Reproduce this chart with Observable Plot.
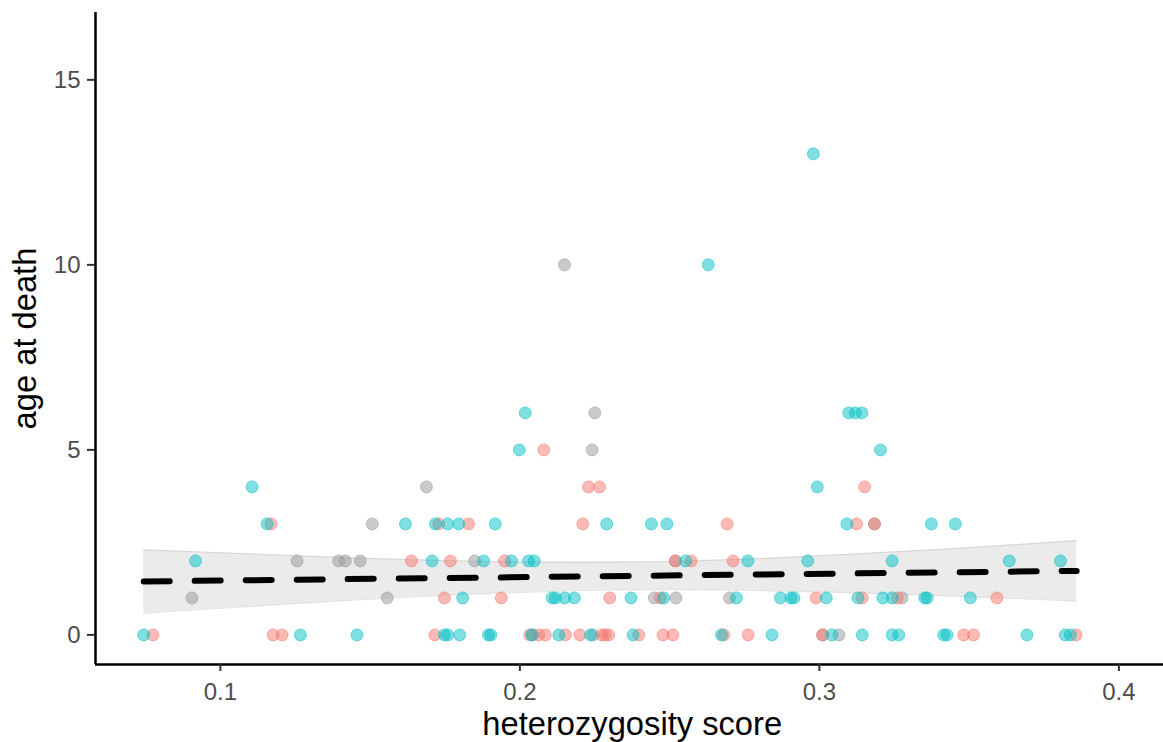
<!DOCTYPE html>
<html><head><meta charset="utf-8">
<script src="https://cdn.jsdelivr.net/npm/d3@7"></script>
<script src="https://cdn.jsdelivr.net/npm/@observablehq/plot@0.6"></script>
<style>html,body{margin:0;padding:0;background:#fff}</style>
</head><body><div id="chart"></div>
<script>
// axis settings
const xTicks = [0.1, 0.2, 0.3, 0.4];
const yTicks = [0, 5, 10, 15];
const xDomain = [0.0583, 0.4149];
const yDomain = [-0.8, 16.82];
const xTitle = "heterozygosity score";
const yTitle = "age at death";

// points: [heterozygosity score, age at death]
const grayPts = [
  [0.2043,0],[0.2245,0],[0.3011,0],[0.3065,0],
  [0.0905,1],[0.1557,1],[0.2449,1],[0.2521,1],[0.2700,1],[0.3276,1],
  [0.1256,2],[0.1395,2],[0.1417,2],[0.1467,2],[0.1849,2],[0.2519,2],
  [0.1507,3],[0.3184,3],
  [0.1688,4],
  [0.2241,5],
  [0.2250,6],
  [0.2149,10]
];
const salmonPts = [
  [0.0775,0],[0.1176,0],[0.1206,0],[0.1716,0],[0.2033,0],[0.2063,0],[0.2085,0],[0.2152,0],[0.2200,0],
  [0.2274,0],[0.2285,0],[0.2297,0],[0.2397,0],[0.2478,0],[0.2511,0],[0.2681,0],[0.2762,0],[0.3011,0],
  [0.3482,0],[0.3515,0],[0.3857,0],
  [0.1748,1],[0.1938,1],[0.2300,1],[0.2469,1],[0.2989,1],[0.3143,1],[0.3260,1],[0.3593,1],
  [0.1638,2],[0.1768,2],[0.1949,2],[0.2519,2],[0.2572,2],[0.2712,2],
  [0.1169,3],[0.1729,3],[0.1829,3],[0.2210,3],[0.2692,3],[0.3124,3],[0.3184,3],
  [0.2229,4],[0.2266,4],[0.3151,4],
  [0.2080,5]
];
const cyanPts = [
  [0.0744,0],[0.1267,0],[0.1456,0],[0.1748,0],[0.1759,0],[0.1799,0],[0.1895,0],[0.1903,0],[0.2040,0],
  [0.2130,0],[0.2236,0],[0.2378,0],[0.2673,0],[0.2842,0],[0.3042,0],[0.3143,0],[0.3243,0],[0.3265,0],
  [0.3415,0],[0.3426,0],[0.3693,0],[0.3821,0],[0.3838,0],
  [0.1809,1],[0.2108,1],[0.2119,1],[0.2150,1],[0.2182,1],[0.2371,1],[0.2480,1],[0.2723,1],[0.2870,1],
  [0.2905,1],[0.2915,1],[0.3023,1],[0.3129,1],[0.3212,1],[0.3243,1],[0.3352,1],[0.3360,1],[0.3504,1],
  [0.0917,2],[0.1707,2],[0.1879,2],[0.1972,2],[0.2029,2],[0.2048,2],[0.2553,2],[0.2761,2],[0.2961,2],
  [0.3243,2],[0.3634,2],[0.3805,2],
  [0.1156,3],[0.1618,3],[0.1718,3],[0.1759,3],[0.1796,3],[0.1918,3],[0.2290,3],[0.2439,3],[0.2491,3],
  [0.3092,3],[0.3374,3],[0.3454,3],
  [0.1106,4],[0.2993,4],
  [0.1998,5],[0.3204,5],
  [0.2018,6],[0.3098,6],[0.3120,6],[0.3142,6],
  [0.2629,10],
  [0.2980,13]
];

// smoother
const ribbonX    = [0.0744, 0.10, 0.13, 0.16, 0.19, 0.22, 0.25, 0.28, 0.31, 0.34, 0.37, 0.3859];
const ribbonLow  = [0.59,   0.72, 0.87, 1.01, 1.12, 1.20, 1.23, 1.20, 1.14, 1.06, 0.97, 0.91];
const ribbonHigh = [2.30,   2.22, 2.12, 2.04, 1.98, 1.96, 1.98, 2.06, 2.18, 2.31, 2.46, 2.55];
const fitX = [0.0744, 0.3859];
const fitY = [1.445, 1.730];

const groups = ["NA", "F", "M"];
const groupColors = ["#969696", "#F8766D", "#00BFC4"];

const pts = [
  ...grayPts.map(([x, y]) => ({x, y, g: "NA"})),
  ...salmonPts.map(([x, y]) => ({x, y, g: "F"})),
  ...cyanPts.map(([x, y]) => ({x, y, g: "M"}))
];
const ribbon = ribbonX.map((x, i) => ({x, lo: ribbonLow[i], hi: ribbonHigh[i]}));
const fit = fitX.map((x, i) => ({x, y: fitY[i]}));

const font = "'Liberation Sans', Arial, Helvetica, sans-serif";

const chart = Plot.plot({
  width: 1163, height: 742,
  marginLeft: 95, marginRight: 0, marginTop: 12, marginBottom: 78,
  style: {fontFamily: font, background: "#fff", color: "black", overflow: "visible"},
  x: {domain: xDomain},
  y: {domain: yDomain},
  color: {domain: groups, range: groupColors},
  marks: [
    Plot.areaY(ribbon, {x: "x", y1: "lo", y2: "hi", fill: "#999999", fillOpacity: 0.2}),
    Plot.lineY(ribbon, {x: "x", y: "lo", stroke: "#999999", strokeOpacity: 0.25, strokeWidth: 1.2}),
    Plot.lineY(ribbon, {x: "x", y: "hi", stroke: "#999999", strokeOpacity: 0.25, strokeWidth: 1.2}),
    Plot.dot(pts, {x: "x", y: "y", r: 6, fill: "g", stroke: "g", fillOpacity: 0.5, strokeOpacity: 0.5, strokeWidth: 1}),
    Plot.line(fit, {x: "x", y: "y", stroke: "black", strokeWidth: 6, strokeDasharray: "26,25"}),
    Plot.ruleX([xDomain[0]], {stroke: "black", strokeWidth: 2.5}),
    Plot.ruleY([yDomain[0]], {stroke: "black", strokeWidth: 2.5}),
    Plot.axisX({ticks: xTicks, tickFormat: d => String(d), label: null, tickSize: 7, tickPadding: 11, fontSize: 24, stroke: "#333333", strokeWidth: 2, fill: "#4D4D4D"}),
    Plot.axisY({ticks: yTicks, tickFormat: d => String(d), label: null, tickSize: 8, tickPadding: 7, fontSize: 24, stroke: "#333333", strokeWidth: 2, fill: "#4D4D4D"}),
    Plot.text([xTitle], {frameAnchor: "bottom", lineAnchor: "bottom", textAnchor: "middle", dy: 70, dx: 2.7, fontSize: 32.7, fill: "black"}),
    Plot.text([yTitle], {frameAnchor: "left", textAnchor: "middle", lineAnchor: "middle", rotate: -90, dx: -69.5, fontSize: 32.7, fill: "black"})
  ]
});
document.getElementById("chart").appendChild(chart);
</script>
</body></html>
